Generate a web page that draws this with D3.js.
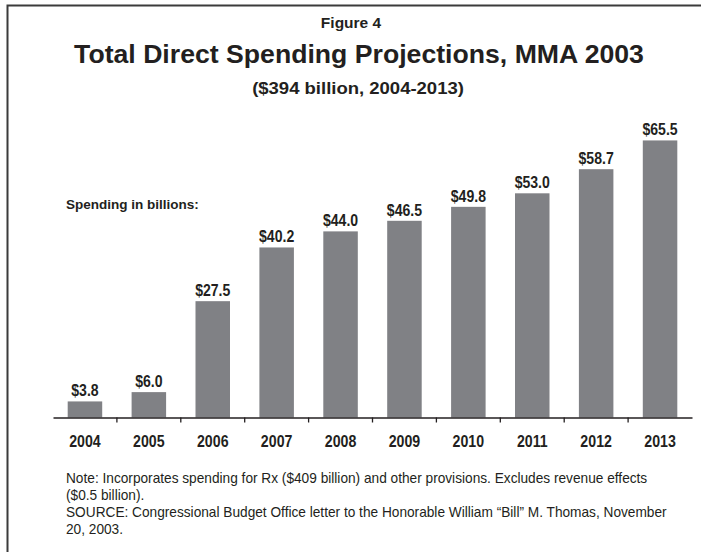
<!DOCTYPE html>
<html>
<head>
<meta charset="utf-8">
<script src="https://cdn.jsdelivr.net/npm/d3@7"></script>
<style>
  html, body { margin: 0; padding: 0; background: #fff; }
  svg { display: block; }
  text { font-family: "Liberation Sans", Arial, Helvetica, sans-serif; }
</style>
</head>
<body>
<svg id="chart" width="701" height="552"></svg>
<script>
// Total direct spending projections, billions of dollars
const years = ["2004", "2005", "2006", "2007", "2008", "2009", "2010", "2011", "2012", "2013"];
const spending = [3.8, 6.0, 27.5, 40.2, 44.0, 46.5, 49.8, 53.0, 58.7, 65.5];
const valueLabels = ["$3.8", "$6.0", "$27.5", "$40.2", "$44.0", "$46.5", "$49.8", "$53.0", "$58.7", "$65.5"];

const figureLabel = "Figure 4";
const title = "Total Direct Spending Projections, MMA 2003";
const subtitle = "($394 billion, 2004-2013)";
const unitLabel = "Spending in billions:";
const notes = [
  "Note: Incorporates spending for Rx ($409 billion) and other provisions. Excludes revenue effects",
  "($0.5 billion).",
  "SOURCE: Congressional Budget Office letter to the Honorable William \u201cBill\u201d M. Thomas, November",
  "20, 2003."
];

const ink = "#231f20";
const barFill = "#808185";

const svg = d3.select("#chart");
svg.append("rect").attr("width", 701).attr("height", 552).attr("fill", "#fff");

// open frame: top and left edges
svg.append("path")
  .attr("d", "M7.5,552V5.5H701")
  .attr("fill", "none")
  .attr("stroke", "#3b3b3b")
  .attr("stroke-width", 2);

// place a text at (x, y) and squeeze it horizontally (condensed face)
function placeText(parent, x, y, str, opts) {
  const g = parent.append("g").attr("transform", `translate(${x},${y})`);
  const t = g.append("text")
    .attr("x", 0).attr("y", 0)
    .attr("text-anchor", opts.anchor || "start")
    .attr("font-size", opts.size)
    .attr("font-weight", opts.weight || "normal")
    .attr("fill", ink)
    .text(str);
  if (opts.width) {
    const w = t.node().getComputedTextLength();
    t.attr("transform", `scale(${opts.width / w},1)`);
  } else if (opts.sx) {
    t.attr("transform", `scale(${opts.sx},1)`);
  }
  return t;
}

// headings
placeText(svg, 351, 28, figureLabel, { anchor: "middle", size: 15.5, weight: "bold" });
placeText(svg, 359, 63, title, { anchor: "middle", size: 25, weight: "bold", width: 570 });
placeText(svg, 358, 94, subtitle, { anchor: "middle", size: 16.5, weight: "bold", width: 212 });

const baseY = 417.5;
const x = d3.scaleBand()
  .domain(years)
  .range([53, 692])
  .paddingInner(0.46)
  .paddingOuter(0.23);

const y = d3.scaleLinear()
  .domain([0, 70])
  .range([baseY, baseY - 70 * 4.23]);

// bars
svg.append("g")
  .selectAll("rect")
  .data(years)
  .join("rect")
  .attr("x", (d) => x(d))
  .attr("width", x.bandwidth())
  .attr("y", (d, i) => y(spending[i]))
  .attr("height", (d, i) => y(0) - y(spending[i]))
  .attr("fill", barFill);

// value labels above bars
const labelLayer = svg.append("g");
years.forEach((d, i) => {
  placeText(labelLayer, x(d) + x.bandwidth() / 2, y(spending[i]) - 5, valueLabels[i],
    { anchor: "middle", size: 16, weight: "bold", sx: 0.88 });
});

// category axis
const axis = svg.append("g")
  .attr("transform", `translate(0,${baseY})`)
  .call(d3.axisBottom(x).tickSize(0));
axis.select(".domain").attr("stroke", ink).attr("stroke-width", 1.6);
axis.selectAll(".tick text")
  .attr("font-family", "Liberation Sans, Arial, sans-serif")
  .attr("font-size", 16.5).attr("font-weight", "bold").attr("fill", ink)
  .attr("dy", null).attr("y", 30)
  .attr("transform", "scale(0.86,1)");

// tick marks between categories
const step = x.step();
svg.append("g")
  .selectAll("line")
  .data(years.slice(1))
  .join("line")
  .attr("x1", (d) => x(d) - (x.paddingInner() * step) / 2)
  .attr("x2", (d) => x(d) - (x.paddingInner() * step) / 2)
  .attr("y1", baseY)
  .attr("y2", baseY + 5)
  .attr("stroke", ink)
  .attr("stroke-width", 1.3);

placeText(svg, 66, 209, unitLabel, { size: 13.5, weight: "bold", width: 133 });

// footnotes, condensed to the same factor as the first line
const noteLayer = svg.append("g");
const first = placeText(noteLayer, 66, 483, notes[0], { size: 14, width: 582 });
const noteScale = first.attr("transform");
notes.slice(1).forEach((s, i) => {
  placeText(noteLayer, 66, 483 + (i + 1) * 17, s, { size: 14 }).attr("transform", noteScale);
});
</script>
</body>
</html>
